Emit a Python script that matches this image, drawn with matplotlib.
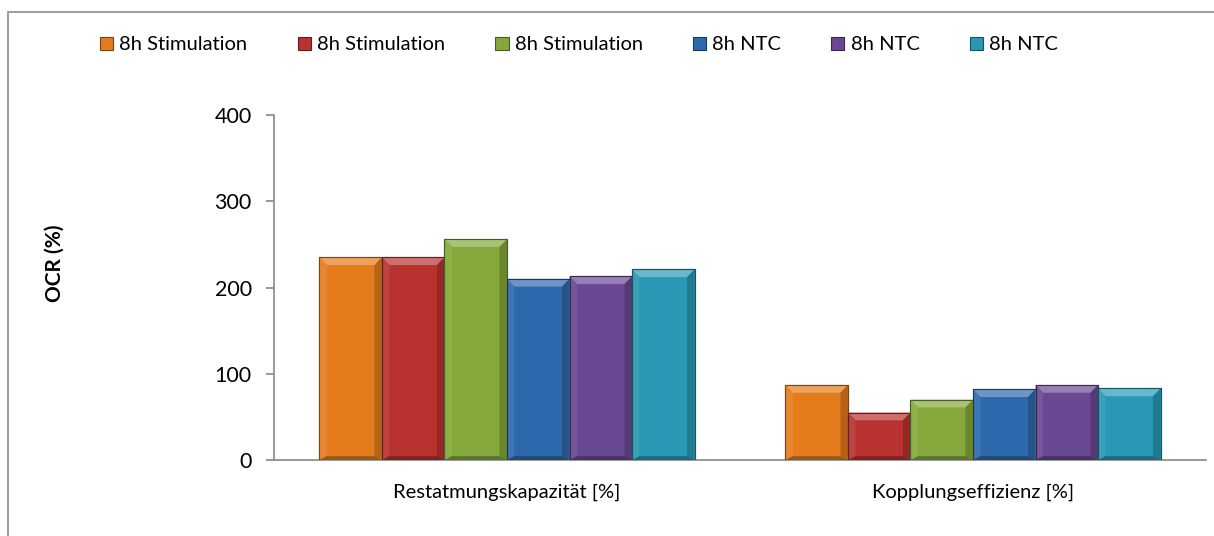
import matplotlib.pyplot as plt
from matplotlib.patches import Rectangle, Polygon
import matplotlib.colors as mcolors
import numpy as np

plt.rcParams['font.family'] = ['Lato', 'DejaVu Sans']

categories = ['Restatmungskapazität [%]', 'Kopplungseffizienz [%]']
series_names = ['8h Stimulation', '8h Stimulation', '8h Stimulation',
                '8h NTC', '8h NTC', '8h NTC']
values = [
    [235, 87],   # orange
    [235, 55],   # red
    [256, 70],   # green
    [210, 82],   # blue
    [213, 87],   # purple
    [221, 83],   # cyan
]
colors = ['#E47B1C', '#B8322F', '#84A93A', '#2D69AD', '#6B4893', '#2898B4']
y_ticks = [0, 100, 200, 300, 400]


def shade(c, f):
    r, g, b = mcolors.to_rgb(c)
    if f > 0:
        return (r + (1 - r) * f, g + (1 - g) * f, b + (1 - b) * f)
    return (r * (1 + f), g * (1 + f), b * (1 + f))


fig = plt.figure(figsize=(12.14, 5.36), dpi=100)
ax = fig.add_axes([274 / 1214, 1 - 460 / 536, 932 / 1214, 345 / 536])

x = np.arange(len(categories))
n = len(values)
group_w = 0.805
bw = group_w / n

bars_all = []
for i, (vals, col) in enumerate(zip(values, colors)):
    pos = x - group_w / 2 + bw * (i + 0.5)
    bars = ax.bar(pos, vals, width=bw, color=col, edgecolor=shade(col, -0.45),
                  linewidth=0.8, label=series_names[i], zorder=2)
    bars_all.append((bars, col))

# bevel effect, built from each bar's own geometry
bx = bw * 0.12
by = 9
for bars, col in bars_all:
    for p in bars:
        x0, w, h = p.get_x(), p.get_width(), p.get_height()
        x1 = x0 + w
        top = Polygon([(x0, h), (x1, h), (x1 - bx, h - by), (x0 + bx, h - by)],
                      closed=True, facecolor=shade(col, 0.3), edgecolor='none', zorder=3)
        left = Polygon([(x0, 0), (x0, h), (x0 + bx, h - by), (x0 + bx, by * 0.5)],
                       closed=True, facecolor=shade(col, 0.08), edgecolor='none', zorder=3)
        right = Polygon([(x1, 0), (x1, h), (x1 - bx, h - by), (x1 - bx, by * 0.5)],
                        closed=True, facecolor=shade(col, -0.2), edgecolor='none', zorder=3)
        bottom = Polygon([(x0, 0), (x1, 0), (x1 - bx, by * 0.5), (x0 + bx, by * 0.5)],
                         closed=True, facecolor=shade(col, -0.3), edgecolor='none', zorder=3)
        for poly in (top, left, right, bottom):
            ax.add_patch(poly)
        ax.add_patch(Rectangle((x0, 0), w, h, facecolor='none',
                               edgecolor=shade(col, -0.45), linewidth=0.8, zorder=4))

ax.set_xlim(-0.5, len(categories) - 0.5)
ax.set_ylim(0, 400)
ax.set_yticks(y_ticks)
ax.set_xticks(x)
ax.set_xticklabels(categories, fontsize=14.5)
ax.tick_params(axis='y', labelsize=15.5, length=6, color='#878787', width=1.2, pad=10)
ax.tick_params(axis='x', length=0, pad=17)

for s in ['top', 'right']:
    ax.spines[s].set_visible(False)
for s in ['left', 'bottom']:
    ax.spines[s].set_color('#878787')
    ax.spines[s].set_linewidth(1.2)

fig.text(55 / 1214, 1 - 263 / 536, 'OCR (%)', rotation=90, fontsize=15,
         fontweight='bold', ha='center', va='center')

fig.legend(loc='center', bbox_to_anchor=(579 / 1214, 1 - 45 / 536), ncol=6, frameon=False,
           fontsize=14.5, handlelength=0.65, handleheight=0.65, handletextpad=0.3,
           columnspacing=2.5)

# chart border
fig.patches.append(Rectangle((8 / 1214, -0.1), 1.1, 1 - 12 / 536 + 0.1,
                             transform=fig.transFigure, fill=False,
                             edgecolor='#8c8c8c', linewidth=1.2))

plt.savefig('out.png', dpi=100)
